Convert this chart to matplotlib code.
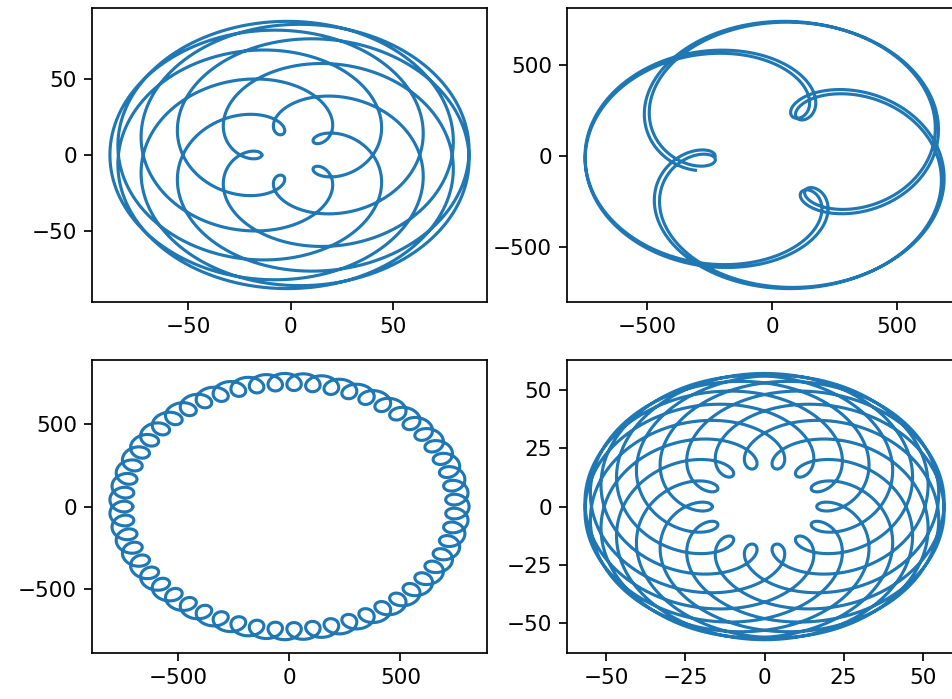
import numpy as np
import matplotlib.pyplot as plt

# epitrochoid-like traces: z(t) = small * exp(i*ratio*t) - big * exp(i*t)
big_radius = [51.0, 489.0, 757.0, 36.75]
small_radius = [37.0, 261.0, 52.0, 20.25]
freq_ratio = [13 / 8, 2.49, 56.0, 25 / 11]
turns = [8.0, 3.96, 1.0, 11.0]      # length of the trace, in full turns of the big circle

s = 1.55   # everything drawn a bit larger than the matplotlib defaults
plt.rcParams['font.size'] = 10 * s
plt.rcParams['lines.linewidth'] = 1.45 * s
plt.rcParams['axes.linewidth'] = 0.8 * s
for ax_name in ['xtick', 'ytick']:
    plt.rcParams[ax_name + '.major.size'] = 3.5 * s
    plt.rcParams[ax_name + '.major.width'] = 0.8 * s
    plt.rcParams[ax_name + '.major.pad'] = 3.5 * s


def trace(big, small, ratio, n_turns):
    t = np.linspace(0, 2 * np.pi * n_turns, 40000)
    z = small * np.exp(1j * ratio * t) - big * np.exp(1j * t)
    return z.real, z.imag


fig = plt.figure(figsize=(9.52, 6.99), dpi=100)
boxes = [[0.0966, 0.568, 0.415, 0.4206],
         [0.5956, 0.568, 0.415, 0.4206],
         [0.0966, 0.0658, 0.415, 0.419],
         [0.5956, 0.0658, 0.415, 0.419]]

for i in range(4):
    ax = fig.add_axes(boxes[i])
    x, y = trace(big_radius[i], small_radius[i], freq_ratio[i], turns[i])
    ax.plot(x, y, color='#1f77b4')

fig.savefig('out.png', dpi=100)
